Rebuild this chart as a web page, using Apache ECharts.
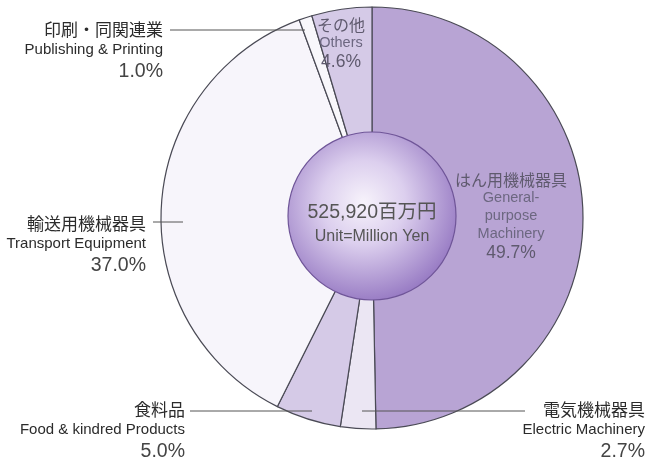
<!DOCTYPE html>
<html>
<head>
<meta charset="utf-8">
<script src="https://cdn.jsdelivr.net/npm/echarts@6/dist/echarts.min.js"></script>
<style>
  html, body { margin: 0; padding: 0; background: #fff; }
  #chart { width: 649px; height: 457px; }
</style>
</head>
<body>
<div id="chart"></div>
<script>
// industries, clockwise from 12 o'clock
const namesJp = ["はん用機械器具", "電気機械器具", "食料品", "輸送用機械器具", "印刷・同関連業", "その他"];
const namesEn = ["General-\npurpose\nMachinery", "Electric Machinery", "Food & kindred Products", "Transport Equipment", "Publishing & Printing", "Others"];
const shares = [49.7, 2.7, 5.0, 37.0, 1.0, 4.6];
const totalText = "525,920百万円";
const unitText = "Unit=Million Yen";

// styling / placement (not data)
const fills = ["#b8a4d4", "#ebe6f3", "#d5cae7", "#f7f5fb", "#f8f7fb", "#d5cae7"];
const inside = [true, false, false, false, false, true];
// label anchor [x, top y, align]
const labelSpots = [
  [511, 170, "center"],
  [645, 399, "right"],
  [185, 399, "right"],
  [146, 213, "right"],
  [163, 19, "right"],
  [341, 15, "center"]
];
// leader lines [x1, x2, y]
const leaders = [[525, 362, 411], [190, 312, 411], [153, 183, 222], [170, 305, 30]];

const chart = echarts.init(document.getElementById("chart"));

const jpFont = "'Noto Sans CJK JP', sans-serif";
const enFont = "'Liberation Sans', Arial, sans-serif";

const pieData = shares.map((v, i) => ({
  value: v,
  name: namesEn[i],
  itemStyle: { color: fills[i] },
  label: inside[i]
    ? {
        position: "inside",
        align: "center",
        formatter: "{ij|" + namesJp[i] + "}\n" +
          namesEn[i].split("\n").map(s => "{ie|" + s + "}").join("\n") +
          "\n{ip|" + v.toFixed(1) + "%}"
      }
    : {
        position: "outside",
        align: "right",
        formatter: "{j|" + namesJp[i] + "}\n{e|" + namesEn[i] + "}\n{p|" + v.toFixed(1) + "%}"
      }
}));

chart.setOption({
  backgroundColor: "#fff",
  animation: false,
  graphic: leaders.map(l => ({
    type: "line",
    z: 100,
    silent: true,
    shape: { x1: l[0], y1: l[2], x2: l[1], y2: l[2] },
    style: { stroke: "#555", lineWidth: 1 }
  })),
  series: [
    {
      type: "pie",
      center: [372, 218],
      radius: [0, 211],
      startAngle: 90,
      clockwise: true,
      avoidLabelOverlap: false,
      silent: true,
      itemStyle: { borderColor: "#4a4a55", borderWidth: 1.2 },
      labelLine: { show: false },
      label: {
        show: true,
        rich: {
          j: { fontFamily: jpFont, fontSize: 17, color: "#2b2b2b", lineHeight: 21 },
          e: { fontFamily: enFont, fontSize: 15, color: "#2b2b2b", lineHeight: 20 },
          p: { fontFamily: enFont, fontSize: 19.5, color: "#444", lineHeight: 23 },
          ij: { fontFamily: jpFont, fontSize: 16, color: "#5f5a6e", lineHeight: 19 },
          ie: { fontFamily: enFont, fontSize: 14.5, color: "#6c6780", lineHeight: 18 },
          ip: { fontFamily: enFont, fontSize: 17.5, color: "#5f5a6e", lineHeight: 20 }
        }
      },
      labelLayout: function (p) {
        const s = labelSpots[p.dataIndex];
        return { x: s[0], y: s[1], align: s[2], verticalAlign: "top" };
      },
      data: pieData
    },
    {
      type: "pie",
      center: [372, 216],
      radius: [0, 84],
      silent: true,
      z: 5,
      itemStyle: {
        borderColor: "#6f5598",
        borderWidth: 1.2,
        color: {
          type: "radial", x: 0.45, y: 0.42, r: 0.62,
          colorStops: [
            { offset: 0, color: "#f7f3fb" },
            { offset: 0.4, color: "#dccfee" },
            { offset: 1, color: "#9274c0" }
          ]
        }
      },
      label: {
        show: true,
        position: "center",
        padding: [16, 0, 0, 0],
        formatter: "{t|" + totalText + "}\n{u|" + unitText + "}",
        rich: {
          t: { fontFamily: enFont + ", " + jpFont, fontSize: 19.5, color: "#555", lineHeight: 26 },
          u: { fontFamily: enFont, fontSize: 16, color: "#555", lineHeight: 22 }
        }
      },
      labelLine: { show: false },
      data: [{ value: 1, name: "total" }]
    }
  ]
});
</script>
</body>
</html>
